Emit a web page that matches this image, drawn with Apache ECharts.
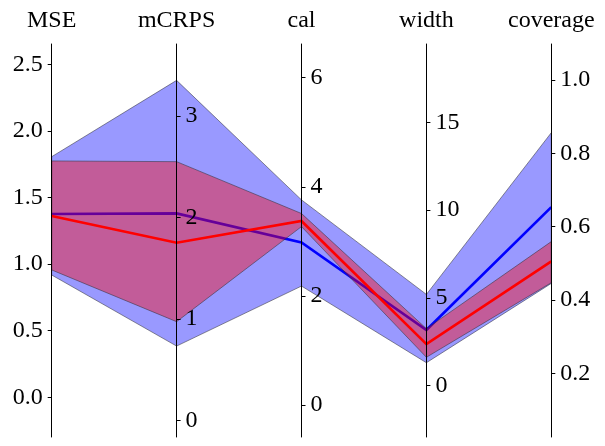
<!DOCTYPE html>
<html>
<head>
<meta charset="utf-8">
<script src="https://cdn.jsdelivr.net/npm/echarts@6/dist/echarts.min.js"></script>
<style>
html, body { margin: 0; padding: 0; background: #fff; }
#main { width: 605px; height: 446px; }
</style>
</head>
<body>
<div id="main"></div>
<script>
// axes of the parallel plot, each with its own range
var axisNames = ['MSE', 'mCRPS', 'cal', 'width', 'coverage'];
var axisMin = [-0.298, -0.16, -0.587, -2.92, 0.026];
var axisMax = [2.652, 3.708, 6.618, 19.46, 1.098];
var axisTicks = [[0, 0.5, 1, 1.5, 2, 2.5], [0, 1, 2, 3], [0, 2, 4, 6], [0, 5, 10, 15], [0.2, 0.4, 0.6, 0.8, 1.0]];
var tickDecimals = [1, 0, 0, 0, 1];

// blue model: mean and band
var blueMean = [1.376, 2.041, 2.98, 3.17, 0.653];
var blueLow = [0.918, 0.735, 2.18, 1.31, 0.445];
var blueHigh = [1.806, 3.35, 3.76, 5.2, 0.856];

// red model: mean and band
var redMean = [1.361, 1.752, 3.373, 2.37, 0.505];
var redLow = [0.956, 0.975, 3.27, 1.62, 0.447];
var redHigh = [1.774, 2.55, 3.51, 3.25, 0.559];

var chart = echarts.init(document.getElementById('main'));
var gridLeft = 51.7, gridRight = 53.7;
var plotW = chart.getWidth() - gridLeft - gridRight;
var serif = 'Liberation Serif';

var yAxes = axisNames.map(function(name, i) {
	return {
		type: 'value',
		name: name,
		nameLocation: 'end',
		nameGap: 11,
		nameTextStyle: { fontFamily: serif, fontSize: 24, color: '#000' },
		position: i == 0 ? 'left' : 'right',
		offset: i == 0 ? 0 : -(4 - i) * plotW / 4,
		min: axisMin[i],
		max: axisMax[i],
		axisLine: { show: true, onZero: false, lineStyle: { color: '#000', width: 1 } },
		axisTick: { show: true, length: 4, customValues: axisTicks[i], lineStyle: { color: '#000', width: 1 } },
		axisLabel: {
			customValues: axisTicks[i],
			margin: 9,
			fontFamily: serif,
			fontSize: 24,
			color: '#000',
			formatter: function(v) { return Number(v).toFixed(tickDecimals[i]); }
		},
		splitLine: { show: false }
	};
});

chart.setOption({
	animation: false,
	grid: { left: gridLeft, right: gridRight, top: 44, bottom: 9, containLabel: false },
	xAxis: { type: 'value', min: 0, max: axisNames.length - 1, show: false },
	yAxis: yAxes,
	series: []
});

function px(i, v) {
	return chart.convertToPixel({ xAxisIndex: 0, yAxisIndex: i }, [i, v]);
}
function pathOf(vals) {
	return vals.map(function(v, i) { return px(i, v); });
}
function bandOf(low, high) {
	return pathOf(high).concat(pathOf(low).reverse());
}

var edge = 'rgba(50,50,60,0.55)';
chart.setOption({
	graphic: [
		{ type: 'polygon', z: -4, shape: { points: bandOf(blueLow, blueHigh) },
		  style: { fill: 'rgba(0,0,255,0.4)', stroke: edge, lineWidth: 1 } },
		{ type: 'polyline', z: -3, shape: { points: pathOf(blueMean) },
		  style: { stroke: '#0000ff', lineWidth: 2.7, fill: null } },
		{ type: 'polygon', z: -2, shape: { points: bandOf(redLow, redHigh) },
		  style: { fill: 'rgba(255,0,0,0.4)', stroke: edge, lineWidth: 1 } },
		{ type: 'polyline', z: -1, shape: { points: pathOf(redMean) },
		  style: { stroke: '#ff0000', lineWidth: 2.7, fill: null } }
	]
});
</script>
</body>
</html>
